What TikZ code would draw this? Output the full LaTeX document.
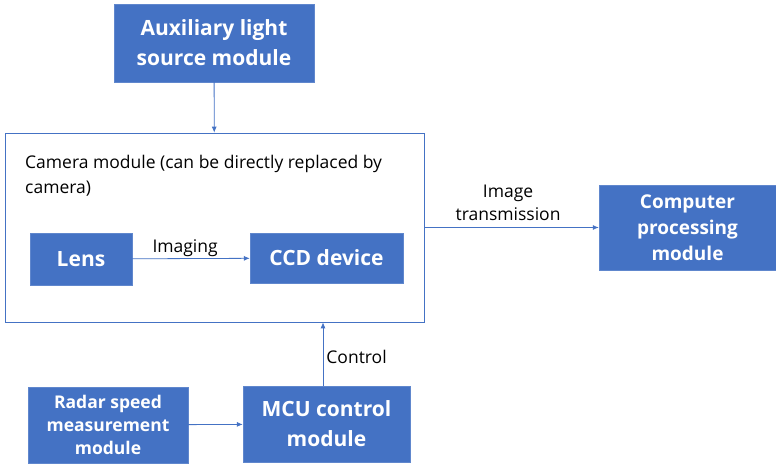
\documentclass[tikz,border=0pt]{standalone}
\usepackage{fontspec}
\setmainfont{Open Sans}
\usepackage{xcolor}
\usepackage{tikz}
\usetikzlibrary{arrows.meta,positioning,calc}

\definecolor{modblue}{HTML}{4472C4}

\begin{document}
\begin{tikzpicture}[
    x=1pt, y=-1pt,
    module/.style={rectangle, draw=modblue!85!white, fill=modblue, text=white, font=\fontsize{21}{30}\selectfont\bfseries, align=center, inner sep=0pt},
    frame/.style={rectangle, draw=modblue, line width=0.7pt, fill=white, inner sep=0pt},
    lbl/.style={font=\fontsize{17.5}{23}\selectfont, align=center, inner sep=1pt},
    arrow/.style={-{Latex[length=6pt,width=5pt]}, draw=modblue, line width=0.8pt}
]
\useasboundingbox (0,0) rectangle (776,463);

% Nodes
\node[module, minimum width=200pt, minimum height=78pt] (aux) at (214,43) {Auxiliary light\\source module};
\node[frame, minimum width=419pt, minimum height=189pt] (camera) at (214.5,227.5) {};
\node[lbl, anchor=north west, align=left, font=\fontsize{17.5}{25}\selectfont] (camtext) at (24,154) {Camera module (can be directly replaced by\\camera)};
\node[module, minimum width=102pt, minimum height=52pt] (lens) at (81,259) {Lens};
\node[module, minimum width=153pt, minimum height=50pt] (ccd) at (326.5,258) {CCD device};
\node[module, minimum width=177pt, minimum height=85pt, font=\fontsize{19}{26}\selectfont\bfseries] (comp) at (687.5,227.5) {Computer\\processing\\module};
\node[module, minimum width=160pt, minimum height=76pt, font=\fontsize{17.5}{23}\selectfont\bfseries] (radar) at (108,425) {Radar speed\\measurement\\module};
\node[module, minimum width=167pt, minimum height=76pt] (mcu) at (326.5,424) {MCU control\\module};

% Arrows
\draw[arrow] (aux) -- (camera);
\draw[arrow] (lens) -- node[lbl, above, pos=0.45] {Imaging} (ccd);
\draw[arrow] (camera.east) -- node[lbl, above, pos=0.48, yshift=5pt] {Image\\transmission} (comp.west);
\draw[arrow] (radar) -- (mcu);
\draw[arrow] ([xshift=-3.5pt]mcu.north) -- node[lbl, right, pos=0.45, xshift=2pt] {Control} ([xshift=-3.5pt]mcu.north |- camera.south);

\end{tikzpicture}
\end{document}
